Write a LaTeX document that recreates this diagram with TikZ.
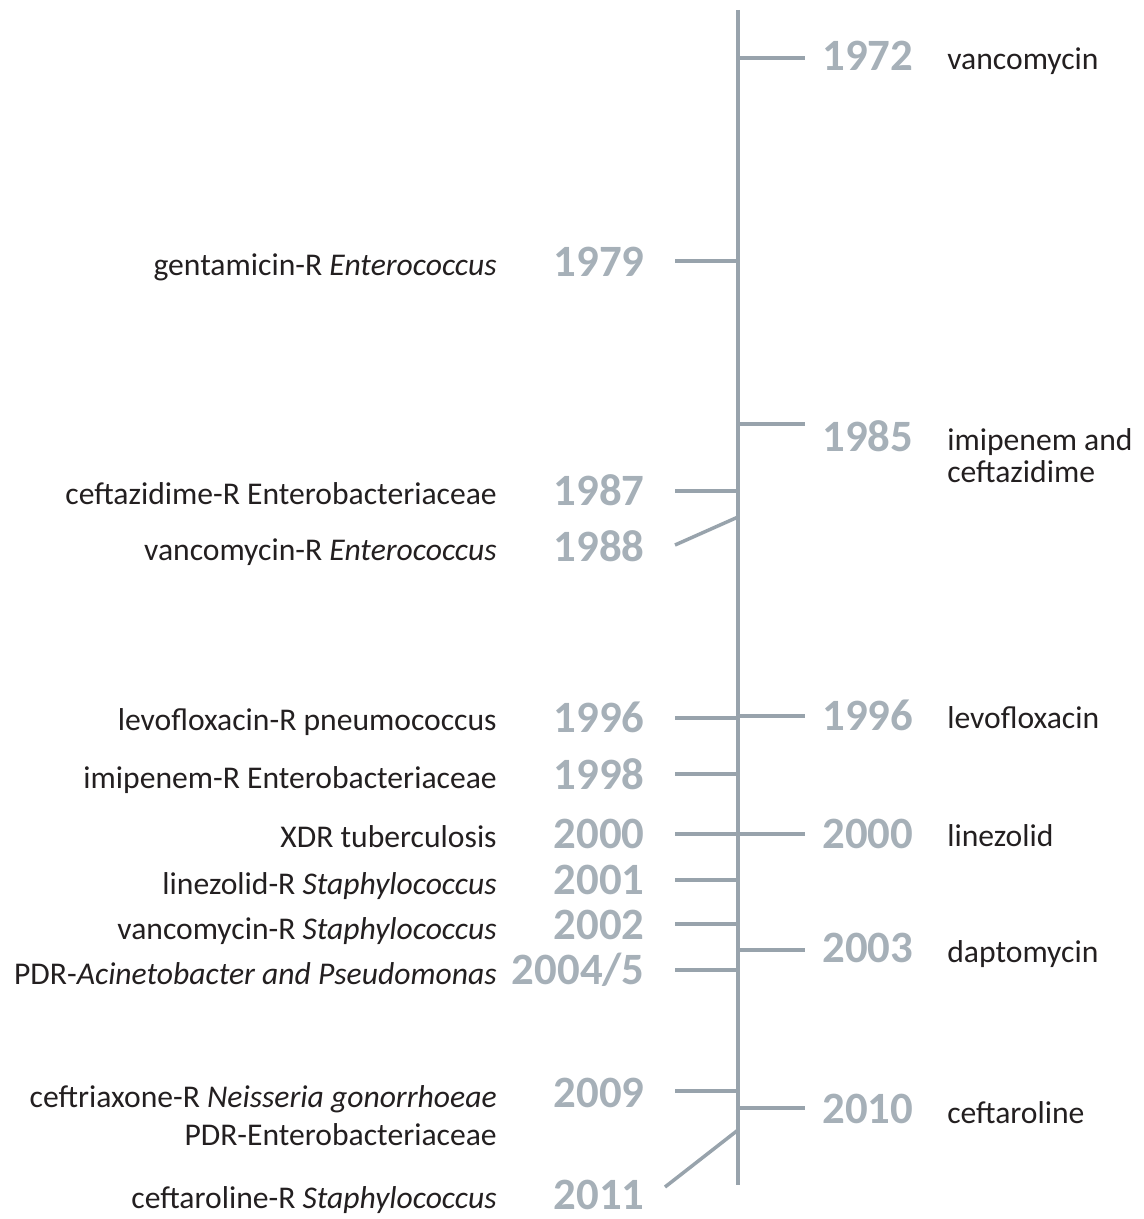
\documentclass[tikz,border=0pt]{standalone}
\usepackage{fontspec}
\setmainfont{Carlito}
\usetikzlibrary{positioning}
\definecolor{linegray}{HTML}{98A3AC}
\definecolor{yeargray}{HTML}{A6B0B8}
\definecolor{textdark}{HTML}{231F20}
\tikzset{
    axisline/.style={draw=linegray, line width=2pt},
    ticker/.style={draw=linegray, line width=2pt},
    yearleft/.style={anchor=base east, inner sep=0pt, text=yeargray, font=\fontsize{25.5}{25.5}\selectfont\bfseries},
    yearright/.style={anchor=base west, inner sep=0pt, text=yeargray, font=\fontsize{25.5}{25.5}\selectfont\bfseries},
    eventleft/.style={anchor=base east, inner sep=0pt, text=textdark, font=\fontsize{18}{18}\selectfont},
    eventright/.style={anchor=base west, inner sep=0pt, text=textdark, font=\fontsize{18}{18}\selectfont}
}

\begin{document}
\begin{tikzpicture}[x=0.02cm, y={(0cm,-0.02cm)}]
    \useasboundingbox (0,0) rectangle (1143,1219);
    % Axis
    \coordinate (top) at (738,10);
    \coordinate (bottom) at (738,1185);
    \draw[axisline] (top) -- (bottom);

    % Right side (drugs)
    \coordinate (r1972) at (738,58);   \coordinate (r1972e) at (805,58);
    \coordinate (r1985) at (738,424);  \coordinate (r1985e) at (805,424);
    \coordinate (r1996) at (738,716);  \coordinate (r1996e) at (805,716);
    \coordinate (r2000) at (738,834);  \coordinate (r2000e) at (805,834);
    \coordinate (r2003) at (738,950);  \coordinate (r2003e) at (805,950);
    \coordinate (r2010) at (738,1108); \coordinate (r2010e) at (805,1108);
    \draw[ticker] (r1972) -- (r1972e);
    \draw[ticker] (r1985) -- (r1985e);
    \draw[ticker] (r1996) -- (r1996e);
    \draw[ticker] (r2000) -- (r2000e);
    \draw[ticker] (r2003) -- (r2003e);
    \draw[ticker] (r2010) -- (r2010e);
    \node[yearright] (y1972) at (822,71) {1972};
    \node[yearright] (y1985) at (822,451) {1985};
    \node[yearright] (y1996) at (822,730) {1996};
    \node[yearright] (y2000) at (822,848) {2000};
    \node[yearright] (y2003) at (822,962) {2003};
    \node[yearright] (y2010) at (822,1123) {2010};
    \node[eventright] (vanco) at (947,70) {vancomycin};
    \node[eventright] (imip) at (947,450) {imipenem and};
    \node[eventright] (cefta) at (947,482) {ceftazidime};
    \node[eventright] (levo) at (947,728) {levofloxacin};
    \node[eventright] (line) at (947,846) {linezolid};
    \node[eventright] (dapto) at (947,962) {daptomycin};
    \node[eventright] (cefar) at (947,1123) {ceftaroline};

    % Left side (resistance)
    \coordinate (l1979) at (738,261);  \coordinate (l1979e) at (675,261);
    \coordinate (l1987) at (738,491);  \coordinate (l1987e) at (675,491);
    \coordinate (l1988) at (738,517);  \coordinate (l1988e) at (675,545);
    \coordinate (l1996) at (738,718);  \coordinate (l1996e) at (675,718);
    \coordinate (l1998) at (738,774);  \coordinate (l1998e) at (675,774);
    \coordinate (l2000) at (738,834);  \coordinate (l2000e) at (675,834);
    \coordinate (l2001) at (738,880);  \coordinate (l2001e) at (675,880);
    \coordinate (l2002) at (738,924);  \coordinate (l2002e) at (675,924);
    \coordinate (l2004) at (738,970);  \coordinate (l2004e) at (675,970);
    \coordinate (l2009) at (738,1091); \coordinate (l2009e) at (675,1091);
    \coordinate (l2011) at (738,1130); \coordinate (l2011e) at (665,1187);
    \draw[ticker] (l1979) -- (l1979e);
    \draw[ticker] (l1987) -- (l1987e);
    \draw[ticker] (l1988) -- (l1988e);
    \draw[ticker] (l1996) -- (l1996e);
    \draw[ticker] (l1998) -- (l1998e);
    \draw[ticker] (l2000) -- (l2000e);
    \draw[ticker] (l2001) -- (l2001e);
    \draw[ticker] (l2002) -- (l2002e);
    \draw[ticker] (l2004) -- (l2004e);
    \draw[ticker] (l2009) -- (l2009e);
    \draw[ticker] (l2011) -- (l2011e);
    \node[yearleft] (x1979) at (645,277) {1979};
    \node[yearleft] (x1987) at (645,505) {1987};
    \node[yearleft] (x1988) at (645,561) {1988};
    \node[yearleft] (x1996) at (645,732) {1996};
    \node[yearleft] (x1998) at (645,789) {1998};
    \node[yearleft] (x2000) at (645,848) {2000};
    \node[yearleft] (x2001) at (645,894) {2001};
    \node[yearleft] (x2002) at (645,939) {2002};
    \node[yearleft] (x2004) at (645,984) {2004/5};
    \node[yearleft] (x2009) at (645,1107) {2009};
    \node[yearleft] (x2011) at (645,1209) {2011};
    \node[eventleft] (genta) at (497,276) {gentamicin-R \textit{Enterococcus}};
    \node[eventleft] (ceftr) at (497,504) {ceftazidime-R Enterobacteriaceae};
    \node[eventleft] (vancr) at (497,560) {vancomycin-R \textit{Enterococcus}};
    \node[eventleft] (levor) at (497,730) {levofloxacin-R pneumococcus};
    \node[eventleft] (imipr) at (497,788) {imipenem-R Enterobacteriaceae};
    \node[eventleft] (xdr) at (497,847) {XDR tuberculosis};
    \node[eventleft] (liner) at (497,894) {linezolid-R \textit{Staphylococcus}};
    \node[eventleft] (vancs) at (497,939) {vancomycin-R \textit{Staphylococcus}};
    \node[eventleft] (pdra) at (497,984) {PDR-\textit{Acinetobacter and Pseudomonas}};
    \node[eventleft] (ceftx) at (497,1107) {ceftriaxone-R \textit{Neisseria gonorrhoeae}};
    \node[eventleft] (pdre) at (497,1145) {PDR-Enterobacteriaceae};
    \node[eventleft] (cefs) at (497,1208) {ceftaroline-R \textit{Staphylococcus}};
\end{tikzpicture}
\end{document}
